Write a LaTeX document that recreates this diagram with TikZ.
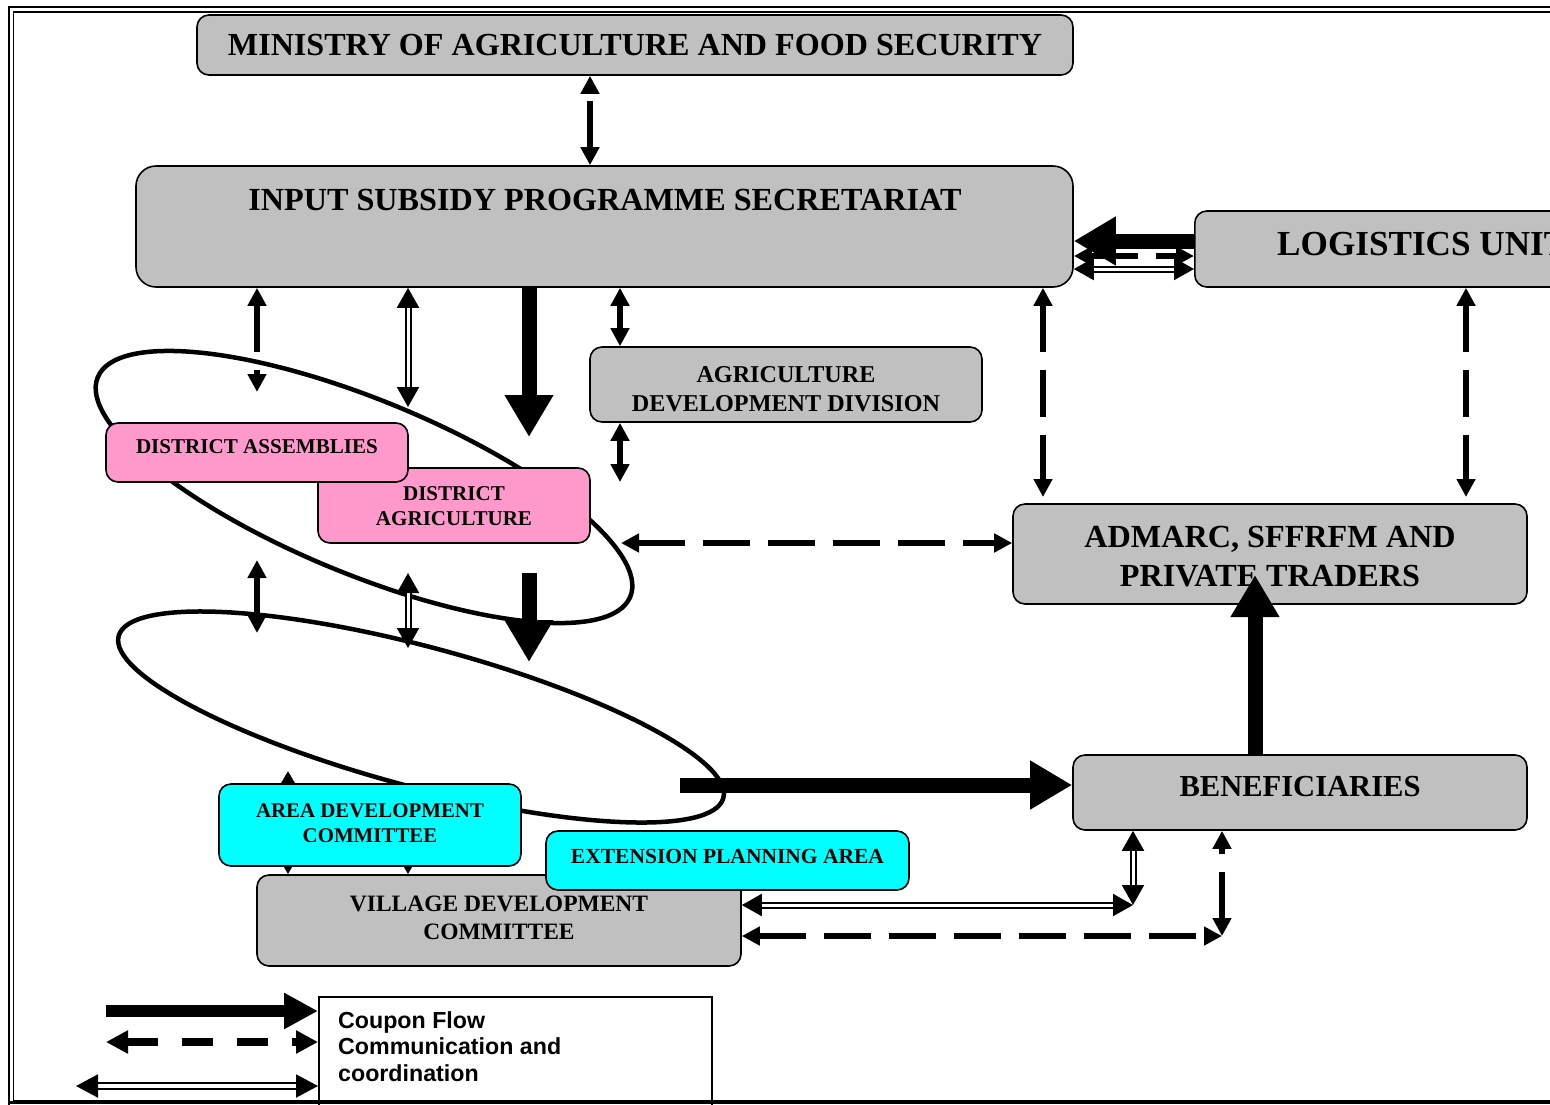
\documentclass[tikz,border=0pt]{standalone}
\usepackage{fontspec}
\setmainfont{Liberation Serif}
\newfontfamily\legendfont{Liberation Sans}
\usetikzlibrary{arrows.meta}
\definecolor{boxgray}{HTML}{C0C0C0}
\definecolor{boxpink}{HTML}{FF99CC}
\definecolor{boxcyan}{HTML}{00FFFF}
\newcommand{\fitw}[2]{\resizebox{#1}{!}{\bfseries #2}}
\newcommand{\fitt}[2]{\resizebox{#1}{!}{\bfseries\begin{tabular}{@{}c@{}}#2\end{tabular}}}
\begin{document}
\begin{tikzpicture}[x=1pt,y=-1pt,
  gbox/.style={draw=black, line width=1.6pt, rounded corners=12pt, fill=boxgray, inner sep=0pt},
  pinkbox/.style={gbox, fill=boxpink},
  cyanbox/.style={gbox, fill=boxcyan},
  txt/.style={inner sep=0pt},
  ell/.style={draw=black, line width=4.5pt},
  couponarrow/.style={line width=15pt, -{Triangle[length=42pt,width=46pt]}},
  commarrow/.style={line width=6pt, dash pattern=on 47pt off 18pt, {Triangle[length=18pt,width=18pt]}-{Triangle[length=18pt,width=18pt]}},
  coordarrow/.style={double, line width=2pt, double distance=3pt, {Triangle[length=20pt,width=22pt]}-{Triangle[length=20pt,width=22pt]}},
  smallarrow/.style={line width=4pt, {Triangle[length=13pt,width=14pt]}-{Triangle[length=13pt,width=14pt]}},
]
\path[use as bounding box] (0,0) rectangle (1550,1104);
\clip (0,0) rectangle (1550,1104);

% ellipses
\draw[ell, rotate around={-22.4:(364,487)}] (364,487) ellipse [x radius=288, y radius=87];
\draw[ell, rotate around={-15:(421,717)}] (421,717) ellipse [x radius=313, y radius=70];

% boxes
\node[gbox, minimum width=876pt, minimum height=60pt] (min) at (635,45) {};
\node[txt] (mintxt) at (635,45) {\fitw{814pt}{MINISTRY OF AGRICULTURE AND FOOD SECURITY}};
\node[gbox, rounded corners=20pt, minimum width=937pt, minimum height=121pt] (isp) at (604.5,226.5) {};
\node[txt] (isptxt) at (605,200) {\fitw{713pt}{INPUT SUBSIDY PROGRAMME SECRETARIAT}};
\node[gbox, minimum width=440pt, minimum height=76pt, anchor=west] (log) at (1194,249) {};
\node[txt, anchor=west] (logtxt) at (1277,244) {\fitw{290pt}{LOGISTICS UNIT}};
\node[gbox, minimum width=392pt, minimum height=75pt] (add) at (786,384.5) {};
\node[txt] (addtxt) at (786,391) {\fitt{308pt}{AGRICULTURE\\DEVELOPMENT DIVISION}};
\node[pinkbox, minimum width=272pt, minimum height=75pt] (dag) at (454,505.5) {};
\node[txt] (dagtxt) at (454,508) {\fitt{156pt}{DISTRICT\\AGRICULTURE}};
\node[pinkbox, minimum width=302pt, minimum height=59pt] (da) at (257,452.5) {};
\node[txt] (datxt) at (257,447) {\fitw{242pt}{DISTRICT ASSEMBLIES}};
\node[gbox, minimum width=514pt, minimum height=100pt] (adm) at (1270,554) {};
\node[txt] (admtxt) at (1270,559.5) {\fitt{371pt}{ADMARC, SFFRFM AND\\PRIVATE TRADERS}};
\node[gbox, minimum width=454pt, minimum height=75pt] (ben) at (1300,792.5) {};
\node[txt] (bentxt) at (1300,787) {\fitw{241pt}{BENEFICIARIES}};
\node[gbox, minimum width=484pt, minimum height=91pt] (vdc) at (499,920.5) {};
\node[txt] (vdctxt) at (499,920) {\fitt{298pt}{VILLAGE DEVELOPMENT\\COMMITTEE}};

% small arrows between ADC and VDC (mostly hidden)
\coordinate (t288) at (288,771);
\coordinate (t408) at (408,790);
\draw[smallarrow] (vdc.north -| t288) -- (t288);
\draw[smallarrow] (vdc.north -| t408) -- (t408);

\node[cyanbox, minimum width=302pt, minimum height=82pt] (adc) at (370,825) {};
\node[txt] (adctxt) at (370,825) {\fitt{228pt}{AREA DEVELOPMENT\\COMMITTEE}};
\node[cyanbox, minimum width=363pt, minimum height=59pt] (epa) at (727.5,860.5) {};
\node[txt] (epatxt) at (727.5,856) {\fitw{313pt}{EXTENSION PLANNING AREA}};

% legend
\node[draw, line width=1.5pt, fill=white, minimum width=393pt, minimum height=120pt, anchor=north west, inner sep=0pt] (leg) at (318,996) {};
\node[anchor=north west, inner sep=0pt, align=left, font=\legendfont\bfseries\fontsize{23.2pt}{26.5pt}\selectfont] (legtxt) at (338,1011) {Coupon Flow\\Communication and\\coordination};

% connectors: top part
\coordinate (c590) at (590,0);
\draw[commarrow] (isp.north -| c590) -- (min.south -| c590);
\coordinate (da257) at (257,392);
\draw[commarrow] (isp.south -| da257) -- (da257);
\coordinate (da408) at (408,407);
\draw[coordarrow] (isp.south -| da408) -- (da408);
\coordinate (cp1) at (529,437);
\draw[couponarrow] (isp.south -| cp1) -- (cp1);
\coordinate (c620) at (620,0);
\draw[commarrow] (isp.south -| c620) -- (add.north -| c620);
\coordinate (add620) at (620,482);
\draw[commarrow] (add.south -| add620) -- (add620);
\coordinate (c1043) at (1043,497);
\draw[commarrow] (isp.south -| c1043) -- (c1043);
\coordinate (c1466) at (1466,497);
\draw[commarrow] (log.south -| c1466) -- (c1466);

% logistics <-> ISP
\coordinate (ly241) at (0,241);
\draw[couponarrow] (log.west |- ly241) -- (isp.east |- ly241);
\coordinate (ly256) at (0,256);
\draw[commarrow] (isp.east |- ly256) -- (log.west |- ly256);
\coordinate (ly269) at (0,269);
\draw[coordarrow] (isp.east |- ly269) -- (log.west |- ly269);

% district agriculture <-> ADMARC
\coordinate (dagr) at (621,543);
\draw[commarrow] (dagr) -- (adm.west |- dagr);

% middle level
\coordinate (e257a) at (257,560);
\coordinate (e257b) at (257,633);
\draw[commarrow] (e257a) -- (e257b);
\coordinate (e408a) at (408,573);
\coordinate (e408b) at (408,648);
\draw[coordarrow] (e408a) -- (e408b);
\coordinate (cp2a) at (529,573);
\coordinate (cp2b) at (529,662);
\draw[couponarrow] (cp2a) -- (cp2b);
\coordinate (cp3) at (680,785);
\draw[couponarrow] (cp3) -- (ben.west |- cp3);
\coordinate (cp4) at (1255,575);
\draw[couponarrow] (ben.north -| cp4) -- (cp4);

% VDC <-> beneficiaries
\coordinate (k1) at (1133,905);
\draw[coordarrow] (vdc.east |- k1) -- (k1);
\draw[coordarrow] (k1) -- (ben.south -| k1);
\coordinate (k2) at (1222,936);
\draw[commarrow] (vdc.east |- k2) -- (k2);
\draw[commarrow] (k2) -- (ben.south -| k2);

% legend arrows
\coordinate (l1) at (106,1011);
\draw[line width=12pt, -{Triangle[length=34pt,width=34pt]}] (l1) -- (leg.west |- l1);
\coordinate (l2) at (106,1042);
\draw[line width=8pt, dash pattern=on 31pt off 24pt, {Triangle[length=22pt,width=22pt]}-{Triangle[length=22pt,width=22pt]}] (l2) -- (leg.west |- l2);
\coordinate (l3) at (76,1086);
\draw[double, line width=2pt, double distance=3.5pt, {Triangle[length=22pt,width=23pt]}-{Triangle[length=22pt,width=23pt]}] (l3) -- (leg.west |- l3);

% frame (drawn last)
\draw[line width=2.5pt] (9,7) rectangle (1600,1120);
\draw[line width=1.3pt] (13.5,12) rectangle (1595,1101);
\draw[line width=3pt] (9,1102) -- (1600,1102);
\end{tikzpicture}
\end{document}
